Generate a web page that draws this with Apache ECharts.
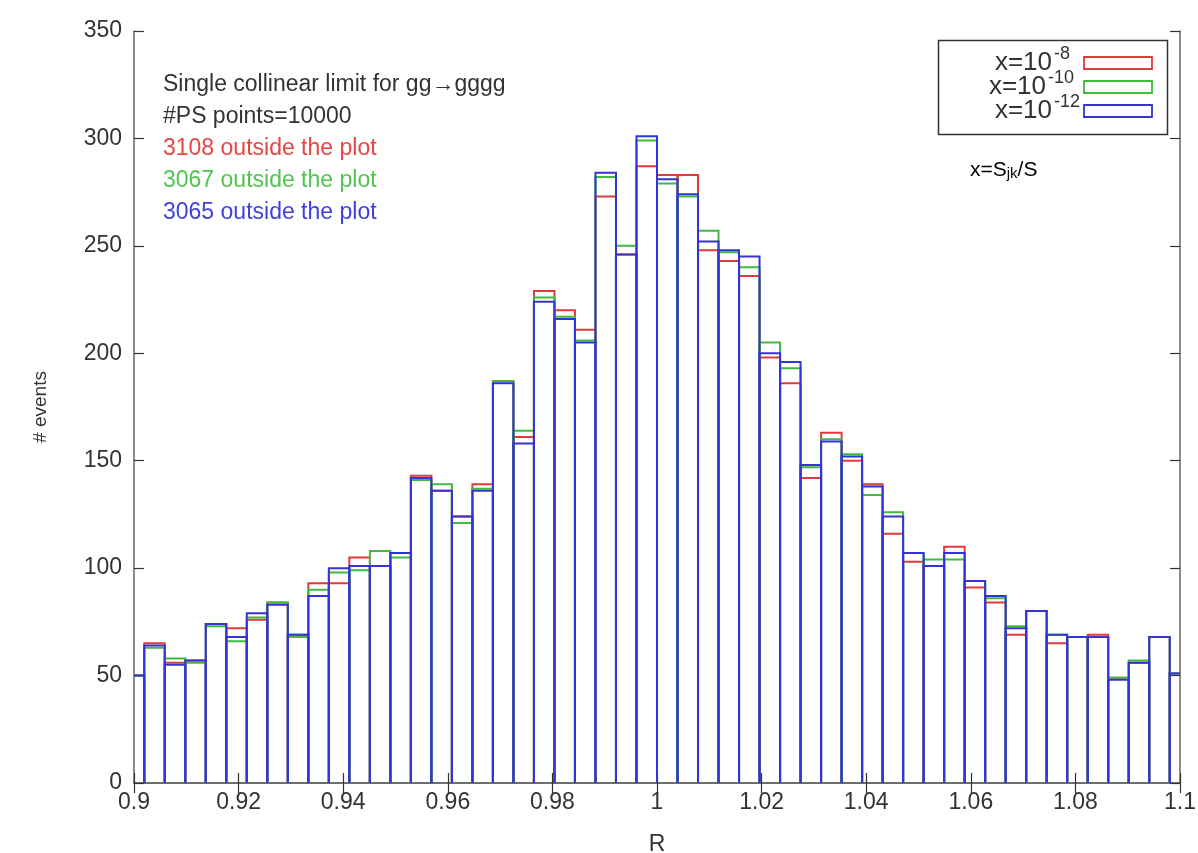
<!DOCTYPE html>
<html>
<head>
<meta charset="utf-8">
<script src="https://cdn.jsdelivr.net/npm/echarts@6/dist/echarts.min.js"></script>
<style>
  html, body { margin: 0; padding: 0; background: #ffffff; }
  #chart { width: 1198px; height: 853px; }
</style>
</head>
<body>
<div id="chart"></div>
<script>
// Histogram of R: 52 bins of equal width, the first and last centred on the plot edges
const binStart = 0.9;
const binWidth = 0.2 / 51;

// Event counts per bin, x = 1e-8
const countsX8 = [
  50, 65, 56, 57, 74, 72, 76, 84, 69, 93,
  93, 105, 101, 107, 143, 136, 124, 139, 187, 161,
  229, 220, 211, 273, 246, 287, 283, 283, 248, 243,
  236, 198, 186, 142, 163, 150, 139, 116, 103, 101,
  110, 91, 84, 69, 80, 65, 68, 69, 49, 56,
  68, 51
];
// Event counts per bin, x = 1e-10
const countsX10 = [
  50, 63, 58, 56, 73, 66, 77, 84, 68, 90,
  98, 99, 108, 105, 141, 139, 121, 137, 187, 164,
  226, 217, 206, 282, 250, 299, 279, 273, 257, 247,
  240, 205, 193, 147, 160, 153, 134, 126, 107, 104,
  104, 94, 86, 73, 80, 69, 68, 68, 49, 57,
  68, 51
];
// Event counts per bin, x = 1e-12
const countsX12 = [
  50, 64, 55, 57, 74, 68, 79, 83, 69, 87,
  100, 101, 101, 107, 142, 136, 124, 136, 186, 158,
  224, 216, 205, 284, 246, 301, 281, 274, 252, 248,
  245, 200, 196, 148, 159, 152, 138, 124, 107, 101,
  107, 94, 87, 72, 80, 69, 68, 68, 48, 56,
  68, 51
];

const seriesColors = ['#e23a3a', '#3fbb3f', '#3434d6'];
const textColors = ['#e84444', '#52c452', '#4040e2'];
const legendExponents = ['-8', '-10', '-12'];
const notes = [
  'Single collinear limit for gg\u2192gggg',
  '#PS points=10000',
  '3108 outside the plot',
  '3067 outside the plot',
  '3065 outside the plot'
];

const FONT = '"Liberation Sans", Arial, sans-serif';

// Open boxes: left, top and right edges of each bin, clipped to the plot frame
function histSeries(name, counts, color) {
  return {
    type: 'custom',
    name: name,
    xAxisIndex: 0,
    yAxisIndex: 0,
    data: counts.map((v, k) => [binStart + k * binWidth, v]),
    renderItem: function (params, api) {
      const c = api.value(0), v = api.value(1);
      const a = api.coord([c - binWidth / 2, 0]);
      const b = api.coord([c + binWidth / 2, v]);
      const cs = params.coordSys;
      const left = Math.max(a[0], cs.x);
      const right = Math.min(b[0], cs.x + cs.width);
      const pts = [];
      if (a[0] >= cs.x - 0.01) pts.push([left, a[1]]);
      pts.push([left, b[1]], [right, b[1]]);
      if (b[0] <= cs.x + cs.width + 0.01) pts.push([right, a[1]]);
      return {
        type: 'polyline',
        shape: { points: pts },
        style: { fill: null, stroke: color, lineWidth: 2 }
      };
    }
  };
}

const axisLineStyle = { color: '#666', width: 1.5 };
const tickStyle = { inside: true, length: 10, lineStyle: { color: '#333', width: 1.2 } };
const labelStyle = { fontSize: 23, color: '#333', fontFamily: FONT };

const graphics = [];
// annotation block
notes.forEach((t, i) => {
  graphics.push({
    type: 'text', x: 163, y: 85 + i * 32,
    style: {
      text: t, x: 0, y: 0, font: '23px ' + FONT,
      fill: i < 2 ? '#333' : textColors[i - 2],
      verticalAlign: 'middle', textAlign: 'left'
    }
  });
});
// legend frame
graphics.push({
  type: 'rect', shape: { x: 938.5, y: 40.5, width: 229, height: 94 },
  style: { fill: '#fff', stroke: '#333', lineWidth: 1.5 }, z: 10
});
const rowY = [63, 87, 111];
legendExponents.forEach((e, i) => {
  graphics.push({
    type: 'text', z: 11,
    style: { text: 'x=10', x: 1052 - (i === 1 ? 6 : 0), y: rowY[i], font: '26px ' + FONT,
      fill: '#333', textAlign: 'right', verticalAlign: 'middle' }
  });
  graphics.push({
    type: 'text', z: 11,
    style: { text: e, x: 1054 - (i === 1 ? 6 : 0), y: rowY[i] - 9, font: '18px ' + FONT,
      fill: '#333', textAlign: 'left', verticalAlign: 'middle' }
  });
  graphics.push({
    type: 'rect', z: 11,
    shape: { x: 1084, y: rowY[i] - 6, width: 68, height: 12 },
    style: { fill: null, stroke: seriesColors[i], lineWidth: 1.8 }
  });
});
// definition of x
graphics.push({
  type: 'text', z: 11,
  style: {
    text: '{m|x=S}{s|jk}{m|/S}', x: 970, y: 170, textAlign: 'left', verticalAlign: 'middle',
    rich: {
      m: { fontSize: 21, fontFamily: FONT, color: '#333' },
      s: { fontSize: 15, fontFamily: FONT, color: '#333', verticalAlign: 'bottom', padding: [8, 0, 0, 0] }
    }
  }
});

const chart = echarts.init(document.getElementById('chart'), null, { renderer: 'canvas' });
chart.setOption({
  backgroundColor: '#ffffff',
  animation: false,
  grid: { left: 134, right: 18, top: 31, bottom: 70, outerBoundsMode: 'none', containLabel: false },
  xAxis: [
    {
      type: 'value', min: 0.9, max: 1.1, interval: 0.02, position: 'bottom',
      axisLine: { show: true, lineStyle: axisLineStyle },
      axisTick: tickStyle,
      axisLabel: Object.assign({ margin: 8 }, labelStyle),
      splitLine: { show: false },
      name: 'R', nameLocation: 'middle', nameGap: 50,
      nameTextStyle: { fontSize: 23, color: '#333', fontFamily: FONT }
    },
    {
      type: 'value', min: 0.9, max: 1.1, interval: 0.02, position: 'top',
      axisLine: { show: true, lineStyle: axisLineStyle },
      axisTick: tickStyle,
      axisLabel: { show: false },
      splitLine: { show: false }
    }
  ],
  yAxis: [
    {
      type: 'value', min: 0, max: 350, interval: 50, position: 'left',
      axisLine: { show: true, lineStyle: axisLineStyle },
      axisTick: tickStyle,
      axisLabel: Object.assign({ margin: 12 }, labelStyle),
      splitLine: { show: false },
      name: '# events', nameLocation: 'middle', nameGap: 84, nameRotate: 90,
      nameTextStyle: { fontSize: 19, color: '#333', fontFamily: FONT }
    },
    {
      type: 'value', min: 0, max: 350, interval: 50, position: 'right',
      axisLine: { show: true, lineStyle: axisLineStyle },
      axisTick: tickStyle,
      axisLabel: { show: false },
      splitLine: { show: false }
    }
  ],
  series: [
    histSeries('x=1e-8', countsX8, seriesColors[0]),
    histSeries('x=1e-10', countsX10, seriesColors[1]),
    histSeries('x=1e-12', countsX12, seriesColors[2])
  ],
  graphic: graphics
});
</script>
</body>
</html>
